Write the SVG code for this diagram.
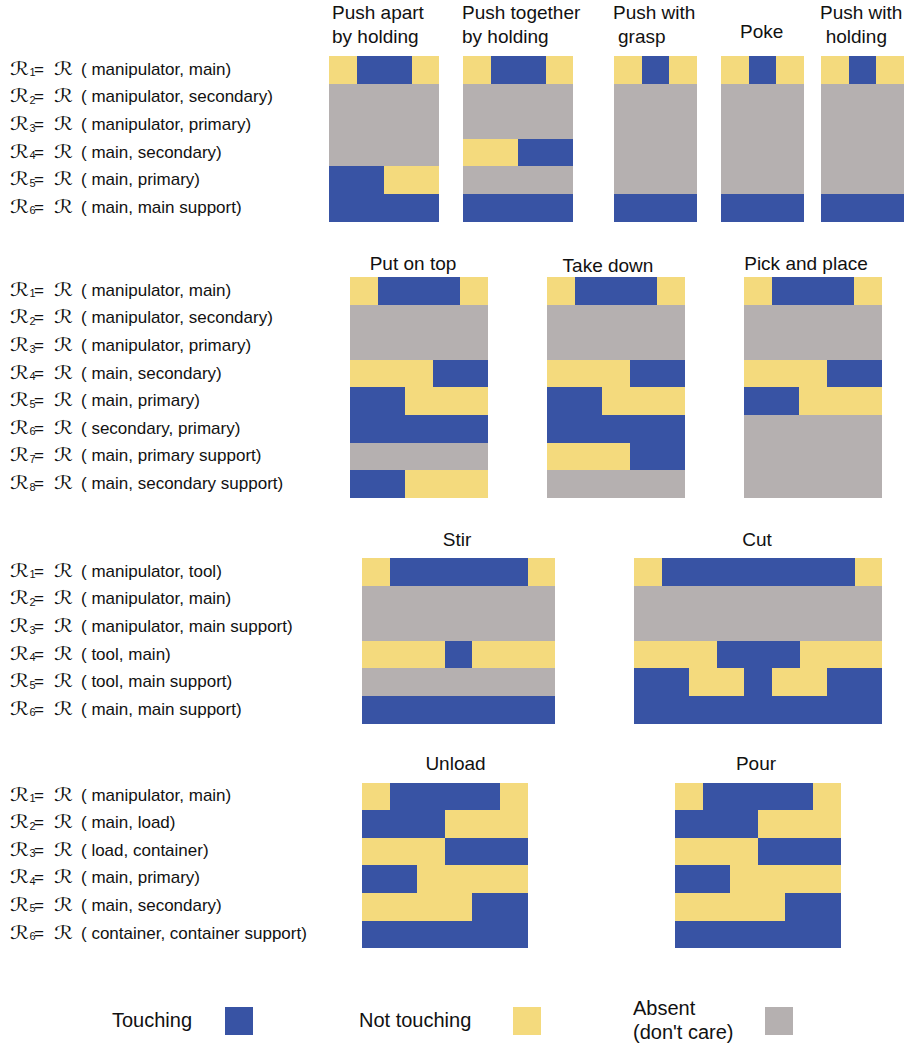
<svg xmlns="http://www.w3.org/2000/svg" width="907" height="1049" viewBox="0 0 907 1049">
<style>
text{font-family:"Liberation Sans",Arial,sans-serif;fill:#111}
.lb{font-size:17px}
.sr{font-family:"DejaVu Sans","Liberation Serif",serif;font-size:18px}
.sub{font-size:11px}
.ti{font-size:19px}
.tc{font-size:19px;text-anchor:middle}
.lg{font-size:20px}
rect{shape-rendering:crispEdges}
.B{fill:#3853A4}
.Y{fill:#F4DA7D}
.G{fill:#B5B0B0}
</style>
<rect width="907" height="1049" fill="#fff"/>

<!-- Section 1 labels -->
<g id="labels-1">
<text class="lb" y="74.8"><tspan x="10" class="sr" textLength="19" lengthAdjust="spacingAndGlyphs">ℛ</tspan><tspan x="29.5" dy="1.5" class="sub">1</tspan><tspan x="34" dy="-1.5">=</tspan><tspan x="54" class="sr" textLength="19" lengthAdjust="spacingAndGlyphs">ℛ</tspan><tspan x="81">( manipulator, main)</tspan></text>
<text class="lb" y="102.4"><tspan x="10" class="sr" textLength="19" lengthAdjust="spacingAndGlyphs">ℛ</tspan><tspan x="29.5" dy="1.5" class="sub">2</tspan><tspan x="34" dy="-1.5">=</tspan><tspan x="54" class="sr" textLength="19" lengthAdjust="spacingAndGlyphs">ℛ</tspan><tspan x="81">( manipulator, secondary)</tspan></text>
<text class="lb" y="130"><tspan x="10" class="sr" textLength="19" lengthAdjust="spacingAndGlyphs">ℛ</tspan><tspan x="29.5" dy="1.5" class="sub">3</tspan><tspan x="34" dy="-1.5">=</tspan><tspan x="54" class="sr" textLength="19" lengthAdjust="spacingAndGlyphs">ℛ</tspan><tspan x="81">( manipulator, primary)</tspan></text>
<text class="lb" y="157.6"><tspan x="10" class="sr" textLength="19" lengthAdjust="spacingAndGlyphs">ℛ</tspan><tspan x="29.5" dy="1.5" class="sub">4</tspan><tspan x="34" dy="-1.5">=</tspan><tspan x="54" class="sr" textLength="19" lengthAdjust="spacingAndGlyphs">ℛ</tspan><tspan x="81">( main, secondary)</tspan></text>
<text class="lb" y="185.2"><tspan x="10" class="sr" textLength="19" lengthAdjust="spacingAndGlyphs">ℛ</tspan><tspan x="29.5" dy="1.5" class="sub">5</tspan><tspan x="34" dy="-1.5">=</tspan><tspan x="54" class="sr" textLength="19" lengthAdjust="spacingAndGlyphs">ℛ</tspan><tspan x="81">( main, primary)</tspan></text>
<text class="lb" y="212.8"><tspan x="10" class="sr" textLength="19" lengthAdjust="spacingAndGlyphs">ℛ</tspan><tspan x="29.5" dy="1.5" class="sub">6</tspan><tspan x="34" dy="-1.5">=</tspan><tspan x="54" class="sr" textLength="19" lengthAdjust="spacingAndGlyphs">ℛ</tspan><tspan x="81">( main, main support)</tspan></text>
</g>

<g id="push-apart">
<text class="ti" x="332" y="19">Push apart</text>
<text class="ti" x="332" y="43">by holding</text>
<rect class="Y" x="329" y="56" width="27.6" height="27.6"/>
<rect class="B" x="356.6" y="56" width="55.2" height="27.6"/>
<rect class="Y" x="411.8" y="56" width="27.6" height="27.6"/>
<rect class="G" x="329" y="83.6" width="110.4" height="82.8"/>
<rect class="B" x="329" y="166.4" width="55.2" height="27.6"/>
<rect class="Y" x="384.2" y="166.4" width="55.2" height="27.6"/>
<rect class="B" x="329" y="194" width="110.4" height="27.6"/>
</g>

<g id="push-together">
<text class="ti" x="462" y="19">Push together</text>
<text class="ti" x="462" y="43">by holding</text>
<rect class="Y" x="463" y="56" width="27.6" height="27.6"/>
<rect class="B" x="490.6" y="56" width="55.2" height="27.6"/>
<rect class="Y" x="545.8" y="56" width="27.6" height="27.6"/>
<rect class="G" x="463" y="83.6" width="110.4" height="55.2"/>
<rect class="Y" x="463" y="138.8" width="55.2" height="27.6"/>
<rect class="B" x="518.2" y="138.8" width="55.2" height="27.6"/>
<rect class="G" x="463" y="166.4" width="110.4" height="27.6"/>
<rect class="B" x="463" y="194" width="110.4" height="27.6"/>
</g>

<g id="push-with-grasp">
<text class="ti" x="613" y="19">Push with</text>
<text class="ti" x="618" y="43">grasp</text>
<rect class="Y" x="614" y="56" width="27.6" height="27.6"/>
<rect class="B" x="641.6" y="56" width="27.6" height="27.6"/>
<rect class="Y" x="669.2" y="56" width="27.6" height="27.6"/>
<rect class="G" x="614" y="83.6" width="82.8" height="110.4"/>
<rect class="B" x="614" y="194" width="82.8" height="27.6"/>
</g>

<g id="poke">
<text class="ti" x="740" y="38.3">Poke</text>
<rect class="Y" x="721" y="56" width="27.6" height="27.6"/>
<rect class="B" x="748.6" y="56" width="27.6" height="27.6"/>
<rect class="Y" x="776.2" y="56" width="27.6" height="27.6"/>
<rect class="G" x="721" y="83.6" width="82.8" height="110.4"/>
<rect class="B" x="721" y="194" width="82.8" height="27.6"/>
</g>

<g id="push-with-holding">
<text class="ti" x="820" y="19">Push with</text>
<text class="ti" x="825.7" y="43">holding</text>
<rect class="Y" x="821" y="56" width="27.6" height="27.6"/>
<rect class="B" x="848.6" y="56" width="27.6" height="27.6"/>
<rect class="Y" x="876.2" y="56" width="27.6" height="27.6"/>
<rect class="G" x="821" y="83.6" width="82.8" height="110.4"/>
<rect class="B" x="821" y="194" width="82.8" height="27.6"/>
</g>

<!-- Section 2 labels -->
<g id="labels-2">
<text class="lb" y="295.8"><tspan x="10" class="sr" textLength="19" lengthAdjust="spacingAndGlyphs">ℛ</tspan><tspan x="29.5" dy="1.5" class="sub">1</tspan><tspan x="34" dy="-1.5">=</tspan><tspan x="54" class="sr" textLength="19" lengthAdjust="spacingAndGlyphs">ℛ</tspan><tspan x="81">( manipulator, main)</tspan></text>
<text class="lb" y="323.4"><tspan x="10" class="sr" textLength="19" lengthAdjust="spacingAndGlyphs">ℛ</tspan><tspan x="29.5" dy="1.5" class="sub">2</tspan><tspan x="34" dy="-1.5">=</tspan><tspan x="54" class="sr" textLength="19" lengthAdjust="spacingAndGlyphs">ℛ</tspan><tspan x="81">( manipulator, secondary)</tspan></text>
<text class="lb" y="351"><tspan x="10" class="sr" textLength="19" lengthAdjust="spacingAndGlyphs">ℛ</tspan><tspan x="29.5" dy="1.5" class="sub">3</tspan><tspan x="34" dy="-1.5">=</tspan><tspan x="54" class="sr" textLength="19" lengthAdjust="spacingAndGlyphs">ℛ</tspan><tspan x="81">( manipulator, primary)</tspan></text>
<text class="lb" y="378.6"><tspan x="10" class="sr" textLength="19" lengthAdjust="spacingAndGlyphs">ℛ</tspan><tspan x="29.5" dy="1.5" class="sub">4</tspan><tspan x="34" dy="-1.5">=</tspan><tspan x="54" class="sr" textLength="19" lengthAdjust="spacingAndGlyphs">ℛ</tspan><tspan x="81">( main, secondary)</tspan></text>
<text class="lb" y="406.2"><tspan x="10" class="sr" textLength="19" lengthAdjust="spacingAndGlyphs">ℛ</tspan><tspan x="29.5" dy="1.5" class="sub">5</tspan><tspan x="34" dy="-1.5">=</tspan><tspan x="54" class="sr" textLength="19" lengthAdjust="spacingAndGlyphs">ℛ</tspan><tspan x="81">( main, primary)</tspan></text>
<text class="lb" y="433.8"><tspan x="10" class="sr" textLength="19" lengthAdjust="spacingAndGlyphs">ℛ</tspan><tspan x="29.5" dy="1.5" class="sub">6</tspan><tspan x="34" dy="-1.5">=</tspan><tspan x="54" class="sr" textLength="19" lengthAdjust="spacingAndGlyphs">ℛ</tspan><tspan x="81">( secondary, primary)</tspan></text>
<text class="lb" y="461.4"><tspan x="10" class="sr" textLength="19" lengthAdjust="spacingAndGlyphs">ℛ</tspan><tspan x="29.5" dy="1.5" class="sub">7</tspan><tspan x="34" dy="-1.5">=</tspan><tspan x="54" class="sr" textLength="19" lengthAdjust="spacingAndGlyphs">ℛ</tspan><tspan x="81">( main, primary support)</tspan></text>
<text class="lb" y="489"><tspan x="10" class="sr" textLength="19" lengthAdjust="spacingAndGlyphs">ℛ</tspan><tspan x="29.5" dy="1.5" class="sub">8</tspan><tspan x="34" dy="-1.5">=</tspan><tspan x="54" class="sr" textLength="19" lengthAdjust="spacingAndGlyphs">ℛ</tspan><tspan x="81">( main, secondary support)</tspan></text>
</g>

<g id="put-on-top">
<text class="tc" x="413" y="269.5">Put on top</text>
<rect class="Y" x="350" y="277" width="27.6" height="27.6"/>
<rect class="B" x="377.6" y="277" width="82.8" height="27.6"/>
<rect class="Y" x="460.4" y="277" width="27.6" height="27.6"/>
<rect class="G" x="350" y="304.6" width="138" height="55.2"/>
<rect class="Y" x="350" y="359.8" width="82.8" height="27.6"/>
<rect class="B" x="432.8" y="359.8" width="55.2" height="27.6"/>
<rect class="B" x="350" y="387.4" width="55.2" height="27.6"/>
<rect class="Y" x="405.2" y="387.4" width="82.8" height="27.6"/>
<rect class="B" x="350" y="415" width="138" height="27.6"/>
<rect class="G" x="350" y="442.6" width="138" height="27.6"/>
<rect class="B" x="350" y="470.2" width="55.2" height="27.6"/>
<rect class="Y" x="405.2" y="470.2" width="82.8" height="27.6"/>
</g>

<g id="take-down">
<text class="tc" x="608" y="271.5">Take down</text>
<rect class="Y" x="547" y="277" width="27.6" height="27.6"/>
<rect class="B" x="574.6" y="277" width="82.8" height="27.6"/>
<rect class="Y" x="657.4" y="277" width="27.6" height="27.6"/>
<rect class="G" x="547" y="304.6" width="138" height="55.2"/>
<rect class="Y" x="547" y="359.8" width="82.8" height="27.6"/>
<rect class="B" x="629.8" y="359.8" width="55.2" height="27.6"/>
<rect class="B" x="547" y="387.4" width="55.2" height="27.6"/>
<rect class="Y" x="602.2" y="387.4" width="82.8" height="27.6"/>
<rect class="B" x="547" y="415" width="138" height="27.6"/>
<rect class="Y" x="547" y="442.6" width="82.8" height="27.6"/>
<rect class="B" x="629.8" y="442.6" width="55.2" height="27.6"/>
<rect class="G" x="547" y="470.2" width="138" height="27.6"/>
</g>

<g id="pick-and-place">
<text class="tc" x="806" y="270">Pick and place</text>
<rect class="Y" x="744" y="277" width="27.6" height="27.6"/>
<rect class="B" x="771.6" y="277" width="82.8" height="27.6"/>
<rect class="Y" x="854.4" y="277" width="27.6" height="27.6"/>
<rect class="G" x="744" y="304.6" width="138" height="55.2"/>
<rect class="Y" x="744" y="359.8" width="82.8" height="27.6"/>
<rect class="B" x="826.8" y="359.8" width="55.2" height="27.6"/>
<rect class="B" x="744" y="387.4" width="55.2" height="27.6"/>
<rect class="Y" x="799.2" y="387.4" width="82.8" height="27.6"/>
<rect class="G" x="744" y="415" width="138" height="82.8"/>
</g>

<!-- Section 3 labels -->
<g id="labels-3">
<text class="lb" y="576.8"><tspan x="10" class="sr" textLength="19" lengthAdjust="spacingAndGlyphs">ℛ</tspan><tspan x="29.5" dy="1.5" class="sub">1</tspan><tspan x="34" dy="-1.5">=</tspan><tspan x="54" class="sr" textLength="19" lengthAdjust="spacingAndGlyphs">ℛ</tspan><tspan x="81">( manipulator, tool)</tspan></text>
<text class="lb" y="604.4"><tspan x="10" class="sr" textLength="19" lengthAdjust="spacingAndGlyphs">ℛ</tspan><tspan x="29.5" dy="1.5" class="sub">2</tspan><tspan x="34" dy="-1.5">=</tspan><tspan x="54" class="sr" textLength="19" lengthAdjust="spacingAndGlyphs">ℛ</tspan><tspan x="81">( manipulator, main)</tspan></text>
<text class="lb" y="632"><tspan x="10" class="sr" textLength="19" lengthAdjust="spacingAndGlyphs">ℛ</tspan><tspan x="29.5" dy="1.5" class="sub">3</tspan><tspan x="34" dy="-1.5">=</tspan><tspan x="54" class="sr" textLength="19" lengthAdjust="spacingAndGlyphs">ℛ</tspan><tspan x="81">( manipulator, main support)</tspan></text>
<text class="lb" y="659.6"><tspan x="10" class="sr" textLength="19" lengthAdjust="spacingAndGlyphs">ℛ</tspan><tspan x="29.5" dy="1.5" class="sub">4</tspan><tspan x="34" dy="-1.5">=</tspan><tspan x="54" class="sr" textLength="19" lengthAdjust="spacingAndGlyphs">ℛ</tspan><tspan x="81">( tool, main)</tspan></text>
<text class="lb" y="687.2"><tspan x="10" class="sr" textLength="19" lengthAdjust="spacingAndGlyphs">ℛ</tspan><tspan x="29.5" dy="1.5" class="sub">5</tspan><tspan x="34" dy="-1.5">=</tspan><tspan x="54" class="sr" textLength="19" lengthAdjust="spacingAndGlyphs">ℛ</tspan><tspan x="81">( tool, main support)</tspan></text>
<text class="lb" y="714.8"><tspan x="10" class="sr" textLength="19" lengthAdjust="spacingAndGlyphs">ℛ</tspan><tspan x="29.5" dy="1.5" class="sub">6</tspan><tspan x="34" dy="-1.5">=</tspan><tspan x="54" class="sr" textLength="19" lengthAdjust="spacingAndGlyphs">ℛ</tspan><tspan x="81">( main, main support)</tspan></text>
</g>

<g id="stir">
<text class="tc" x="457" y="546">Stir</text>
<rect class="Y" x="362" y="558" width="27.6" height="27.6"/>
<rect class="B" x="389.6" y="558" width="138" height="27.6"/>
<rect class="Y" x="527.6" y="558" width="27.6" height="27.6"/>
<rect class="G" x="362" y="585.6" width="193.2" height="55.2"/>
<rect class="Y" x="362" y="640.8" width="82.8" height="27.6"/>
<rect class="B" x="444.8" y="640.8" width="27.6" height="27.6"/>
<rect class="Y" x="472.4" y="640.8" width="82.8" height="27.6"/>
<rect class="G" x="362" y="668.4" width="193.2" height="27.6"/>
<rect class="B" x="362" y="696" width="193.2" height="27.6"/>
</g>

<g id="cut">
<text class="tc" x="757" y="546">Cut</text>
<rect class="Y" x="634" y="558" width="27.6" height="27.6"/>
<rect class="B" x="661.6" y="558" width="193.2" height="27.6"/>
<rect class="Y" x="854.8" y="558" width="27.6" height="27.6"/>
<rect class="G" x="634" y="585.6" width="248.4" height="55.2"/>
<rect class="Y" x="634" y="640.8" width="82.8" height="27.6"/>
<rect class="B" x="716.8" y="640.8" width="82.8" height="27.6"/>
<rect class="Y" x="799.6" y="640.8" width="82.8" height="27.6"/>
<rect class="B" x="634" y="668.4" width="55.2" height="27.6"/>
<rect class="Y" x="689.2" y="668.4" width="55.2" height="27.6"/>
<rect class="B" x="744.4" y="668.4" width="27.6" height="27.6"/>
<rect class="Y" x="772" y="668.4" width="55.2" height="27.6"/>
<rect class="B" x="827.2" y="668.4" width="55.2" height="27.6"/>
<rect class="B" x="634" y="696" width="248.4" height="27.6"/>
</g>

<!-- Section 4 labels -->
<g id="labels-4">
<text class="lb" y="800.5"><tspan x="10" class="sr" textLength="19" lengthAdjust="spacingAndGlyphs">ℛ</tspan><tspan x="29.5" dy="1.5" class="sub">1</tspan><tspan x="34" dy="-1.5">=</tspan><tspan x="54" class="sr" textLength="19" lengthAdjust="spacingAndGlyphs">ℛ</tspan><tspan x="81">( manipulator, main)</tspan></text>
<text class="lb" y="828.1"><tspan x="10" class="sr" textLength="19" lengthAdjust="spacingAndGlyphs">ℛ</tspan><tspan x="29.5" dy="1.5" class="sub">2</tspan><tspan x="34" dy="-1.5">=</tspan><tspan x="54" class="sr" textLength="19" lengthAdjust="spacingAndGlyphs">ℛ</tspan><tspan x="81">( main, load)</tspan></text>
<text class="lb" y="855.7"><tspan x="10" class="sr" textLength="19" lengthAdjust="spacingAndGlyphs">ℛ</tspan><tspan x="29.5" dy="1.5" class="sub">3</tspan><tspan x="34" dy="-1.5">=</tspan><tspan x="54" class="sr" textLength="19" lengthAdjust="spacingAndGlyphs">ℛ</tspan><tspan x="81">( load, container)</tspan></text>
<text class="lb" y="883.3"><tspan x="10" class="sr" textLength="19" lengthAdjust="spacingAndGlyphs">ℛ</tspan><tspan x="29.5" dy="1.5" class="sub">4</tspan><tspan x="34" dy="-1.5">=</tspan><tspan x="54" class="sr" textLength="19" lengthAdjust="spacingAndGlyphs">ℛ</tspan><tspan x="81">( main, primary)</tspan></text>
<text class="lb" y="910.9"><tspan x="10" class="sr" textLength="19" lengthAdjust="spacingAndGlyphs">ℛ</tspan><tspan x="29.5" dy="1.5" class="sub">5</tspan><tspan x="34" dy="-1.5">=</tspan><tspan x="54" class="sr" textLength="19" lengthAdjust="spacingAndGlyphs">ℛ</tspan><tspan x="81">( main, secondary)</tspan></text>
<text class="lb" y="938.5"><tspan x="10" class="sr" textLength="19" lengthAdjust="spacingAndGlyphs">ℛ</tspan><tspan x="29.5" dy="1.5" class="sub">6</tspan><tspan x="34" dy="-1.5">=</tspan><tspan x="54" class="sr" textLength="19" lengthAdjust="spacingAndGlyphs">ℛ</tspan><tspan x="81">( container, container support)</tspan></text>
</g>

<g id="unload">
<text class="tc" x="455.5" y="770">Unload</text>
<rect class="Y" x="362" y="782.6" width="27.6" height="27.6"/>
<rect class="B" x="389.6" y="782.6" width="110.4" height="27.6"/>
<rect class="Y" x="500" y="782.6" width="27.6" height="27.6"/>
<rect class="B" x="362" y="810.2" width="82.8" height="27.6"/>
<rect class="Y" x="444.8" y="810.2" width="82.8" height="27.6"/>
<rect class="Y" x="362" y="837.8" width="82.8" height="27.6"/>
<rect class="B" x="444.8" y="837.8" width="82.8" height="27.6"/>
<rect class="B" x="362" y="865.4" width="55.2" height="27.6"/>
<rect class="Y" x="417.2" y="865.4" width="110.4" height="27.6"/>
<rect class="Y" x="362" y="893" width="110.4" height="27.6"/>
<rect class="B" x="472.4" y="893" width="55.2" height="27.6"/>
<rect class="B" x="362" y="920.6" width="165.6" height="27.6"/>
</g>

<g id="pour">
<text class="tc" x="756" y="770">Pour</text>
<rect class="Y" x="675" y="782.6" width="27.6" height="27.6"/>
<rect class="B" x="702.6" y="782.6" width="110.4" height="27.6"/>
<rect class="Y" x="813" y="782.6" width="27.6" height="27.6"/>
<rect class="B" x="675" y="810.2" width="82.8" height="27.6"/>
<rect class="Y" x="757.8" y="810.2" width="82.8" height="27.6"/>
<rect class="Y" x="675" y="837.8" width="82.8" height="27.6"/>
<rect class="B" x="757.8" y="837.8" width="82.8" height="27.6"/>
<rect class="B" x="675" y="865.4" width="55.2" height="27.6"/>
<rect class="Y" x="730.2" y="865.4" width="110.4" height="27.6"/>
<rect class="Y" x="675" y="893" width="110.4" height="27.6"/>
<rect class="B" x="785.4" y="893" width="55.2" height="27.6"/>
<rect class="B" x="675" y="920.6" width="165.6" height="27.6"/>
</g>

<g id="legend">
<text class="lg" x="112" y="1027">Touching</text>
<rect class="B" x="225" y="1007" width="28" height="28"/>
<text class="lg" x="359" y="1027">Not touching</text>
<rect class="Y" x="513" y="1007" width="28" height="28"/>
<text class="lg" x="633" y="1014.5">Absent</text>
<text class="lg" x="633" y="1038.5">(don't care)</text>
<rect class="G" x="765" y="1007" width="28" height="28"/>
</g>

<g id="connectors"></g>
</svg>
